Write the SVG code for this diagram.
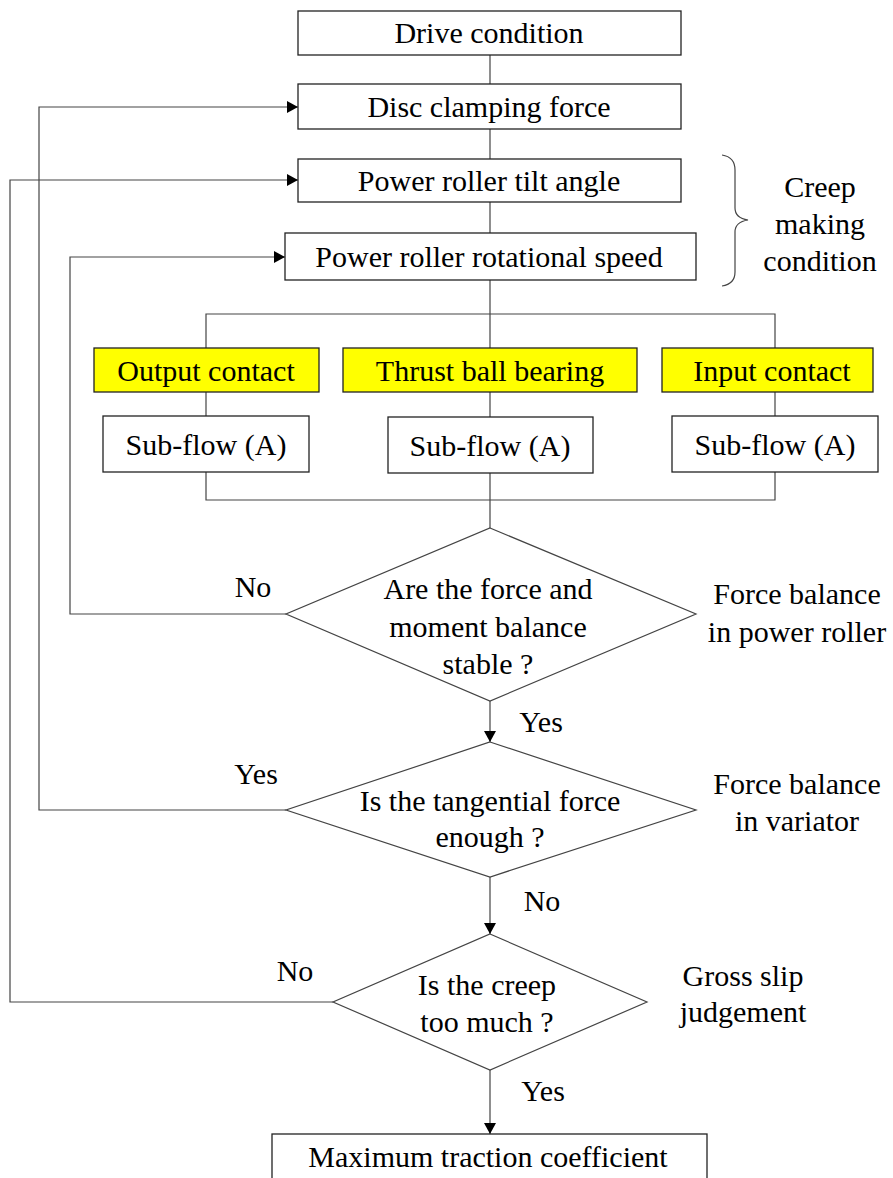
<svg xmlns="http://www.w3.org/2000/svg" width="893" height="1178" viewBox="0 0 893 1178" font-family="Liberation Serif, Times New Roman, serif">
  <style>
    text { font-size: 30px; fill: #000; text-anchor: middle; }
    .box { fill: #fff; stroke: #222; stroke-width: 1.3; }
    .hl { fill: #ffff00; stroke: #222; stroke-width: 1.3; }
    .dia { fill: #fff; stroke: #444; stroke-width: 1.2; }
    .ln { fill: none; stroke: #444; stroke-width: 1.2; }
  </style>
  <defs>
    <marker id="arrow" markerWidth="12" markerHeight="12" refX="11" refY="6" orient="auto" markerUnits="userSpaceOnUse">
      <path d="M0,0 L11,6 L0,12 Z" fill="#000"/>
    </marker>
  </defs>

  <rect width="893" height="1178" fill="#fff"/>

  <!-- connectors -->
  <g id="connectors">
    <!-- main spine -->
    <line class="ln" x1="490" y1="55" x2="490" y2="84"/>
    <line class="ln" x1="490" y1="129" x2="490" y2="159"/>
    <line class="ln" x1="490" y1="202" x2="490" y2="233"/>
    <line class="ln" x1="490" y1="280" x2="490" y2="528"/>
    <!-- split / merge -->
    <polyline class="ln" points="206,348 206,314 775,314 775,348"/>
    <line class="ln" x1="206" y1="392" x2="206" y2="416"/>
    <line class="ln" x1="775" y1="392" x2="775" y2="416"/>
    <polyline class="ln" points="206,472 206,500 775,500 775,472"/>
    <!-- decisions downward -->
    <line class="ln" x1="490" y1="701" x2="490" y2="742" marker-end="url(#arrow)"/>
    <line class="ln" x1="490" y1="877" x2="490" y2="934" marker-end="url(#arrow)"/>
    <line class="ln" x1="490" y1="1070" x2="490" y2="1134" marker-end="url(#arrow)"/>
    <!-- feedback loops -->
    <polyline class="ln" points="286,614 70,614 70,257 285,257" marker-end="url(#arrow)"/>
    <polyline class="ln" points="286,810 39,810 39,107 298,107" marker-end="url(#arrow)"/>
    <polyline class="ln" points="333,1002 10,1002 10,180 298,180" marker-end="url(#arrow)"/>
    <!-- branch labels -->
    <text x="253" y="597">No</text>
    <text x="541" y="732">Yes</text>
    <text x="256" y="784">Yes</text>
    <text x="542" y="911">No</text>
    <text x="295" y="981">No</text>
    <text x="543" y="1101">Yes</text>
  </g>

  <g id="drive">
    <rect class="box" x="298" y="11" width="383" height="44"/>
    <text x="489" y="43">Drive condition</text>
  </g>
  <g id="clamp">
    <rect class="box" x="298" y="84" width="383" height="45"/>
    <text x="489" y="117">Disc clamping force</text>
  </g>
  <g id="tilt">
    <rect class="box" x="298" y="159" width="383" height="43"/>
    <text x="489" y="191">Power roller tilt angle</text>
  </g>
  <g id="speed">
    <rect class="box" x="285" y="233" width="411" height="47"/>
    <text x="489" y="267">Power roller rotational speed</text>
  </g>

  <g id="creep-note">
    <path class="ln" d="M722,155 Q735,157 735,170 L735,208 Q735,218 748,220 Q735,222 735,232 L735,272 Q735,284 722,286"/>
    <text x="820" y="197">Creep</text>
    <text x="820" y="234">making</text>
    <text x="820" y="271">condition</text>
  </g>

  <g id="output-contact">
    <rect class="hl" x="94" y="348" width="225" height="44"/>
    <text x="206" y="381">Output contact</text>
  </g>
  <g id="thrust-bearing">
    <rect class="hl" x="343" y="348" width="294" height="44"/>
    <text x="490" y="381">Thrust ball bearing</text>
  </g>
  <g id="input-contact">
    <rect class="hl" x="662" y="348" width="211" height="44"/>
    <text x="772" y="381">Input contact</text>
  </g>

  <g id="subflow-1">
    <rect class="box" x="103" y="416" width="206" height="56"/>
    <text x="206" y="455">Sub-flow (A)</text>
  </g>
  <g id="subflow-2">
    <rect class="box" x="388" y="417" width="205" height="56"/>
    <text x="490" y="456">Sub-flow (A)</text>
  </g>
  <g id="subflow-3">
    <rect class="box" x="672" y="416" width="206" height="56"/>
    <text x="775" y="455">Sub-flow (A)</text>
  </g>

  <g id="decision-balance">
    <polygon class="dia" points="490,528 696,614 490,701 286,614"/>
    <text x="488" y="599">Are the force and</text>
    <text x="488" y="637">moment balance</text>
    <text x="488" y="674">stable ?</text>
    <text x="797" y="604">Force balance</text>
    <text x="797" y="642">in power roller</text>
  </g>

  <g id="decision-tangential">
    <polygon class="dia" points="490,742 696,810 490,877 286,810"/>
    <text x="490" y="811">Is the tangential force</text>
    <text x="490" y="847">enough ?</text>
    <text x="797" y="794">Force balance</text>
    <text x="797" y="831">in variator</text>
  </g>

  <g id="decision-creep">
    <polygon class="dia" points="490,934 647,1002 490,1070 333,1002"/>
    <text x="487" y="995">Is the creep</text>
    <text x="487" y="1032">too much ?</text>
    <text x="743" y="986">Gross slip</text>
    <text x="743" y="1022">judgement</text>
  </g>

  <g id="max-traction">
    <rect class="box" x="272" y="1134" width="435" height="60"/>
    <text x="488" y="1167">Maximum traction coefficient</text>
  </g>
</svg>
